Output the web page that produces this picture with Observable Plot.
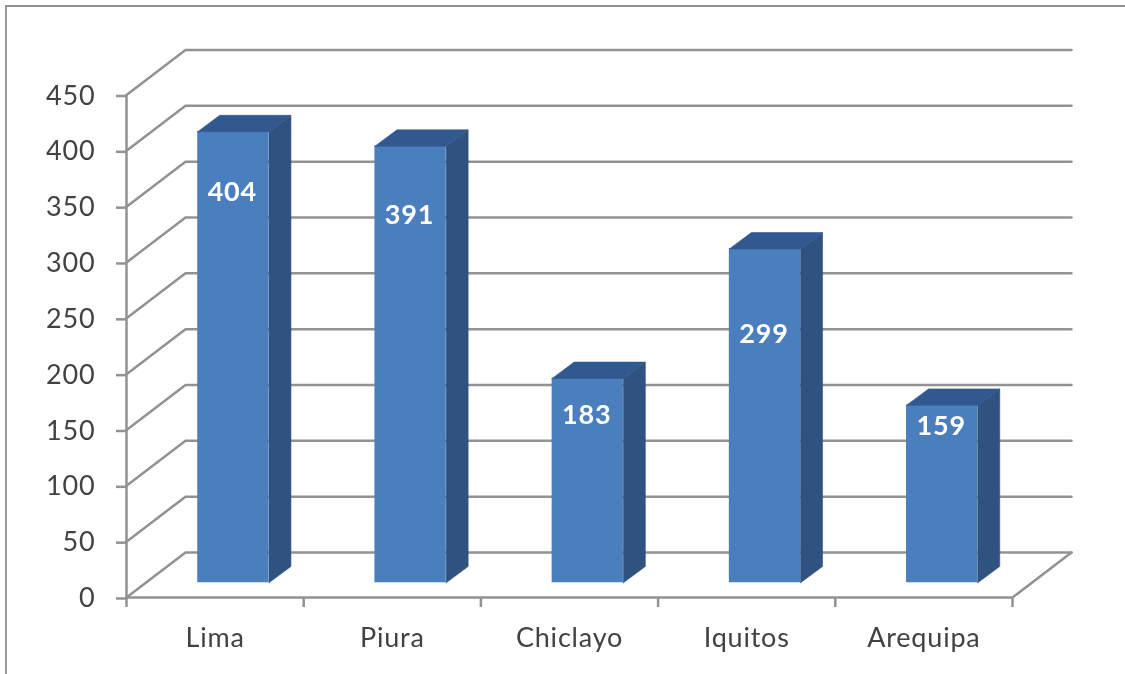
<!DOCTYPE html>
<html>
<head>
<meta charset="utf-8">
<script src="https://cdn.jsdelivr.net/npm/d3@7"></script>
<script src="https://cdn.jsdelivr.net/npm/@observablehq/plot@0.6"></script>
<style>
  html, body { margin: 0; padding: 0; background: #fff; overflow: hidden; }
  #chart { position: relative; width: 1125px; height: 674px; overflow: hidden; }
  #chart svg { display: block; filter: blur(0.65px); }
  #border { position: absolute; left: 5px; top: 5px; width: 1200px; height: 800px;
            border-left: 2.5px solid #999; border-top: 2.5px solid #8f8f8f; filter: blur(0.6px); }
</style>
</head>
<body>
<div id="chart"><div id="border"></div></div>
<script>
const categories = ["Lima", "Piura", "Chiclayo", "Iquitos", "Arequipa"];
const values = [404, 391, 183, 299, 159];
const yTicks = [0, 50, 100, 150, 200, 250, 300, 350, 400, 450];

// Oblique projection, expressed in data units
const wall = {x: 0.333, y: 40.3};   // shift from the front plane to the back wall
const bar = {x: 0.124, y: 14.6, left: 0.402, width: 0.402, base: 13.2};
const labelLevels = [363, 342, 163.5, 235.5, 153];

const GRID = "#929292", TEXT = "#424242";

const gridRows = yTicks.flatMap(t => [
  {t, x: 0, y: t},
  {t, x: wall.x, y: t + wall.y},
  {t, x: categories.length + wall.x, y: t + wall.y}
]);
const floorEdge = [
  {x: 0, y: 0},
  {x: categories.length, y: 0},
  {x: categories.length + wall.x, y: wall.y}
];

const bars = values.map((v, i) => {
  const x1 = i + bar.left, x2 = x1 + bar.width;
  const y1 = bar.base, y2 = bar.base + v;
  return {i, v, x1, x2, y1, y2, cx: (x1 + x2) / 2, labelY: labelLevels[i]};
});
const sideRows = bars.flatMap(b => [
  {i: b.i, x: b.x2, y: b.y1},
  {i: b.i, x: b.x2 + bar.x, y: b.y1 + bar.y},
  {i: b.i, x: b.x2 + bar.x, y: b.y2 + bar.y},
  {i: b.i, x: b.x2, y: b.y2},
  {i: b.i, x: b.x2, y: b.y1}
]);
const topRows = bars.flatMap(b => [
  {i: b.i, x: b.x1, y: b.y2},
  {i: b.i, x: b.x2, y: b.y2},
  {i: b.i, x: b.x2 + bar.x, y: b.y2 + bar.y},
  {i: b.i, x: b.x1 + bar.x, y: b.y2 + bar.y},
  {i: b.i, x: b.x1, y: b.y2}
]);

const plot = Plot.plot({
  width: 1125,
  height: 674,
  marginLeft: 126,
  marginRight: 113,
  marginTop: 94.5,
  marginBottom: 77,
  style: {background: "transparent", fontFamily: "Lato, sans-serif", letterSpacing: "0.8px"},
  x: {domain: [0, categories.length]},
  y: {domain: [0, 450]},
  marks: [
    Plot.line(gridRows, {x: "x", y: "y", z: "t", stroke: GRID, strokeWidth: 2.5}),
    Plot.line(floorEdge, {x: "x", y: "y", stroke: GRID, strokeWidth: 2.5}),
    Plot.ruleX([0], {y1: 0, y2: 450, stroke: GRID, strokeWidth: 2.5}),
    Plot.axisY({
      ticks: yTicks, tickSize: 10, tickPadding: 21, label: null,
      stroke: GRID, strokeWidth: 2.5, fill: TEXT, fontSize: 27, textStroke: "none", dy: 1
    }),
    Plot.axisX({
      ticks: d3.range(categories.length + 1), tickSize: 10, tickFormat: () => "", label: null,
      stroke: GRID, strokeWidth: 2.5
    }),
    Plot.axisX({
      ticks: categories.map((c, i) => i + 0.5), tickSize: 0, tickPadding: 30, label: null,
      tickFormat: d => categories[Math.floor(d)], fill: TEXT, fontSize: 27
    }),
    Plot.rectY(bars, {x1: "x1", x2: "x2", y1: "y1", y2: "y2", fill: "#4a7ebd"}),
    Plot.line(sideRows, {x: "x", y: "y", z: "i", fill: "#2f5280", stroke: "#2f5280", strokeWidth: 0.6}),
    Plot.line(topRows, {x: "x", y: "y", z: "i", fill: "#31598f", stroke: "#31598f", strokeWidth: 0.6}),
    Plot.text(bars, {x: "cx", y: "labelY", text: d => String(d.v), fill: "white",
      fontWeight: "bold", fontSize: 27, dx: -1})
  ]
});
document.getElementById("chart").appendChild(plot);
</script>
</body>
</html>
